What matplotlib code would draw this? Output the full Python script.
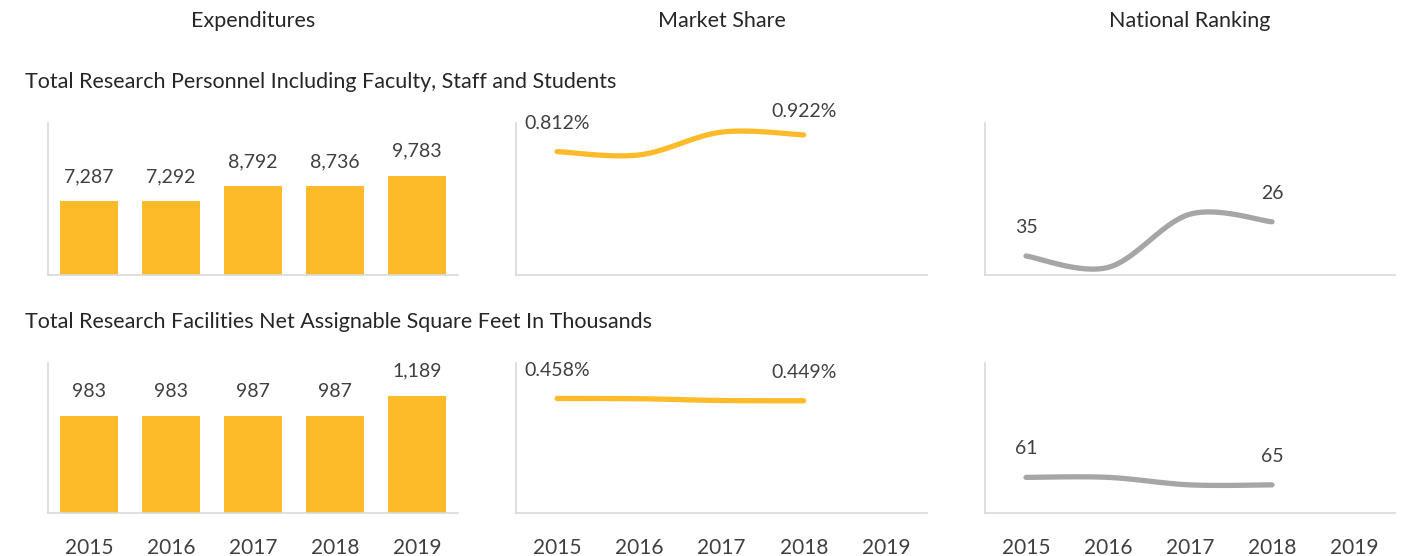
import numpy as np
import matplotlib as mpl
mpl.use('Agg')
import matplotlib.pyplot as plt

plt.rcParams['font.family'] = ['Lato', 'DejaVu Sans']

years = ['2015', '2016', '2017', '2018', '2019']
col_titles = ['Expenditures', 'Market Share', 'National Ranking']
row_titles = ['Total Research Personnel Including Faculty, Staff and Students',
              'Total Research Facilities Net Assignable Square Feet In Thousands']

personnel = [7287, 7292, 8792, 8736, 9783]
facilities = [983, 983, 987, 987, 1189]
share_personnel = [0.812, 0.79, 0.94, 0.922]
share_facilities = [0.458, 0.457, 0.450, 0.449]
rank_personnel = [35, 38, 24, 26]
rank_facilities = [61, 61, 65, 65]

GOLD = '#FDBB2A'
GRAY = '#A6A6A6'
TXT = '#404040'
SPINE = '#D9D9D9'

W, H = 1418, 556
fig = plt.figure(figsize=(W / 100, H / 100), dpi=100)


def px_axes(x0, y0, x1, y1):
    return fig.add_axes([x0 / W, 1 - y1 / H, (x1 - x0) / W, (y1 - y0) / H])


def smooth(y, n=40):
    # excel style smoothed line (catmull-rom bezier)
    p = np.column_stack([np.arange(len(y)), y]).astype(float)
    out = []
    for i in range(len(p) - 1):
        p0 = p[max(i - 1, 0)]
        p1, p2 = p[i], p[i + 1]
        p3 = p[min(i + 2, len(p) - 1)]
        c1 = p1 + (p2 - p0) / 6
        c2 = p2 - (p3 - p1) / 6
        t = np.linspace(0, 1, n)[:, None]
        seg = ((1 - t) ** 3) * p1 + 3 * ((1 - t) ** 2) * t * c1 + 3 * (1 - t) * t ** 2 * c2 + t ** 3 * p2
        out.append(seg)
    seg = np.vstack(out)
    return seg[:, 0], seg[:, 1]


def style(ax, show_x):
    for s in ['top', 'right']:
        ax.spines[s].set_visible(False)
    for s in ['left', 'bottom']:
        ax.spines[s].set_color(SPINE)
        ax.spines[s].set_linewidth(1.2)
    ax.set_yticks([])
    ax.set_xlim(-0.5, 4.5)
    ax.set_xticks(range(5))
    if show_x:
        ax.set_xticklabels(years, fontsize=15, color=TXT)
        ax.tick_params(axis='x', length=0, pad=18)
    else:
        ax.set_xticklabels([])
        ax.tick_params(axis='x', length=0)


rows = [(123, 275), (363, 513)]
cols = [(48, 458), (516, 927), (985, 1395)]
bars = [personnel, facilities]
bar_max = [15000, 1520]
shares = [share_personnel, share_facilities]
share_max = [1.0, 0.6]
share_fmt = '{:.3f}%'
ranks = [rank_personnel, rank_facilities]
rank_max = [40, 80]

for c, t in enumerate(col_titles):
    fig.text((cols[c][0] + cols[c][1]) / 2 / W, 1 - 21 / H, t, ha='center', va='center',
             fontsize=15.5, color='#262626')

for r, (y0, y1) in enumerate(rows):
    fig.text(25 / W, 1 - (82 + r * 240) / H, row_titles[r], ha='left', va='center',
             fontsize=15.5, color='#262626')
    show_x = r == 1

    ax = px_axes(cols[0][0], y0, cols[0][1], y1)
    ax.bar(range(5), bars[r], width=0.71, color=GOLD)
    ax.set_ylim(0, bar_max[r])
    for i, v in enumerate(bars[r]):
        ax.annotate(f'{v:,}', (i, v), xytext=(0, 16), textcoords='offset pixels',
                    ha='center', va='bottom', fontsize=14, color=TXT)
    style(ax, show_x)

    ax = px_axes(cols[1][0], y0, cols[1][1], y1)
    sx, sy = smooth(shares[r])
    ax.plot(sx, sy, color=GOLD, lw=3.8, solid_capstyle='round')
    ax.set_ylim(0, share_max[r])
    for i in [0, len(shares[r]) - 1]:
        off = 15 if (i > 0 and r == 0) else 20
        ax.annotate(share_fmt.format(shares[r][i]), (i, shares[r][i]), xytext=(0, off),
                    textcoords='offset pixels', ha='center', va='bottom', fontsize=14, color=TXT)
    style(ax, show_x)

    ax = px_axes(cols[2][0], y0, cols[2][1], y1)
    sx, sy = smooth(ranks[r])
    ax.plot(sx, sy, color=GRAY, lw=3.8, solid_capstyle='round')
    ax.set_ylim(rank_max[r], 0)
    for i in [0, len(ranks[r]) - 1]:
        ax.annotate(str(ranks[r][i]), (i, ranks[r][i]), xytext=(0, 20),
                    textcoords='offset pixels', ha='center', va='bottom', fontsize=14, color=TXT)
    style(ax, show_x)

fig.savefig('out.png', dpi=100)
